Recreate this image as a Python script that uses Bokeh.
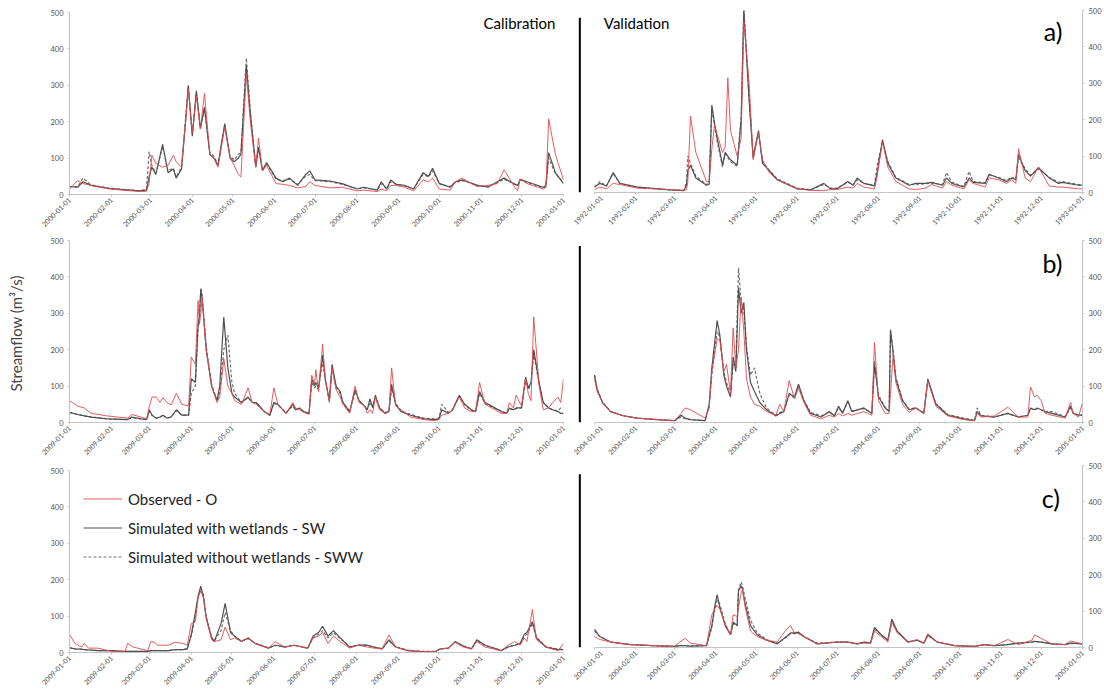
import math
import pandas as pd
from bokeh.plotting import figure
from bokeh.models import Range1d, FixedTicker, DatetimeTickFormatter, Label, Legend, LegendItem
from bokeh.layouts import row, column
from bokeh.embed import file_html
from bokeh.resources import INLINE

# ---------------- data (day offset from Jan 1, values in m3/s) ----------------
A_CAL_START, A_CAL_END = "2000-01-01", "2001-01-01"
A_CAL_DAYS = [0, 6, 10, 16, 30, 52, 57, 59, 61, 64, 69, 73, 77, 79, 83, 86, 88, 91, 94, 97, 100, 104, 107, 110,
              115, 119, 122, 125, 127, 131, 134, 138, 140, 143, 146, 153, 158, 163, 169, 175, 178, 182, 193, 202,
              213, 218, 228, 231, 235, 238, 242, 248, 255, 262, 266, 269, 274, 282, 286, 291, 295, 302, 310, 317,
              322, 329, 332, 334, 339, 351, 353, 355, 360, 366]
A_CAL_OBS = [15, 38, 30, 25, 15, 8, 9, 30, 108, 85, 75, 80, 108, 90, 75, 200, 290, 170, 270, 180, 278, 110, 100, 75,
             185, 100, 80, 55, 48, 330, 200, 75, 155, 65, 80, 30, 28, 25, 18, 22, 35, 25, 18, 20,
             10, 12, 8, 15, 10, 25, 25, 20, 10, 40, 35, 45, 15, 12, 35, 45, 35, 22, 25, 30,
             68, 25, 10, 42, 30, 15, 20, 208, 110, 40]
A_CAL_SW = [22, 20, 35, 25, 16, 10, 12, 50, 75, 55, 138, 60, 70, 45, 70, 200, 300, 160, 285, 180, 240, 110, 100, 80,
            195, 100, 90, 100, 110, 355, 220, 75, 130, 65, 88, 45, 35, 45, 25, 55, 65, 40, 37, 30,
            15, 20, 12, 35, 15, 40, 28, 25, 15, 60, 50, 72, 30, 20, 35, 40, 35, 25, 20, 35,
            45, 30, 25, 42, 35, 20, 25, 115, 60, 30]
A_CAL_SWW = [22, 21, 45, 26, 17, 10, 15, 118, 80, 58, 132, 65, 72, 48, 75, 210, 295, 165, 280, 185, 235, 115, 105, 82,
             190, 105, 95, 110, 115, 375, 230, 78, 128, 68, 85, 42, 38, 42, 28, 50, 55, 38, 35, 28,
             16, 18, 13, 30, 16, 35, 28, 24, 16, 55, 48, 65, 30, 22, 33, 38, 34, 26, 22, 33,
             42, 30, 25, 40, 33, 18, 22, 100, 58, 32]

A_VAL_START, A_VAL_END = "1992-01-01", "1993-01-01"
A_VAL_DAYS = [0, 4, 9, 14, 19, 32, 57, 67, 69, 70, 72, 76, 84, 86, 88, 90, 92, 96, 98, 100, 102, 107, 110, 112,
              116, 119, 123, 126, 131, 137, 152, 162, 172, 177, 182, 190, 194, 197, 202, 210, 212, 216, 220, 226,
              236, 241, 248, 253, 261, 264, 268, 277, 281, 284, 293, 296, 303, 309, 313, 316, 318, 323, 327, 333,
              341, 348, 351, 363, 366]
A_VAL_OBS = [8, 15, 10, 25, 22, 12, 8, 6, 8, 30, 210, 110, 30, 30, 120, 185, 160, 110, 125, 315, 170, 100, 150, 470,
             300, 90, 165, 90, 55, 35, 10, 6, 5, 8, 8, 15, 12, 25, 15, 10, 45, 140, 70, 30,
             10, 8, 12, 22, 12, 30, 20, 10, 35, 25, 15, 40, 35, 25, 35, 25, 120, 40, 30, 70,
             18, 15, 15, 10, 10]
A_VAL_SW = [15, 25, 18, 55, 25, 15, 7, 5, 20, 60, 75, 40, 20, 22, 240, 190, 150, 75, 110, 100, 90, 75, 200, 500,
            250, 95, 170, 80, 60, 35, 10, 7, 25, 10, 10, 30, 20, 40, 25, 18, 55, 145, 80, 40,
            20, 25, 25, 28, 20, 40, 25, 15, 40, 28, 25, 50, 40, 30, 40, 35, 105, 60, 45, 68,
            40, 25, 28, 20, 20]
A_VAL_SWW = [15, 30, 18, 52, 25, 15, 7, 5, 30, 100, 80, 45, 22, 25, 230, 185, 140, 70, 105, 95, 85, 72, 210, 510,
             260, 100, 165, 85, 62, 38, 12, 8, 22, 12, 12, 28, 22, 35, 25, 20, 75, 140, 85, 42,
             22, 22, 24, 26, 22, 55, 28, 17, 58, 30, 27, 48, 42, 33, 42, 37, 95, 65, 48, 65,
             42, 28, 30, 22, 21]

B_CAL_START, B_CAL_END = "2009-01-01", "2010-01-01"
B_CAL_DAYS = [0, 6, 11, 16, 28, 43, 46, 53, 57, 59, 61, 64, 67, 69, 72, 75, 79, 83, 88, 90, 93, 95, 96, 97, 98,
              101, 105, 109, 111, 114, 117, 120, 122, 127, 132, 135, 138, 144, 148, 151, 154, 160, 165, 167, 170,
              173, 177, 179, 181, 182, 184, 187, 189, 192, 194, 197, 200, 202, 207, 211, 214, 218, 220, 222, 224,
              226, 229, 233, 236, 238, 241, 245, 252, 262, 270, 273, 275, 280, 283, 288, 292, 297, 300, 303, 307,
              312, 319, 323, 325, 328, 330, 334, 337, 339, 341, 343, 347, 350, 354, 357, 361, 363, 365]
B_CAL_OBS = [60, 45, 40, 25, 18, 12, 22, 15, 10, 45, 70, 70, 55, 68, 55, 48, 80, 50, 45, 180, 160, 335, 270, 300, 345,
             200, 100, 55, 70, 175, 100, 80, 60, 50, 95, 55, 50, 30, 22, 95, 50, 25, 55, 40, 35,
             28, 22, 130, 105, 145, 85, 215, 120, 55, 150, 90, 70, 50, 25, 100, 55, 45, 25, 35, 25,
             70, 35, 25, 30, 150, 45, 35, 15, 8, 5, 8, 20, 25, 35, 70, 40, 30, 30, 110, 50,
             40, 25, 25, 55, 40, 75, 45, 120, 80, 60, 290, 100, 35, 40, 55, 70, 55, 120]
B_CAL_SW = [28, 22, 18, 15, 10, 8, 15, 10, 8, 35, 20, 12, 15, 20, 12, 15, 35, 20, 20, 120, 110, 270, 290, 365, 340,
            200, 100, 60, 100, 290, 150, 80, 70, 55, 70, 55, 55, 30, 20, 55, 50, 25, 50, 35, 40,
            30, 25, 120, 100, 110, 95, 185, 120, 60, 160, 100, 85, 55, 30, 90, 60, 45, 35, 65, 40,
            75, 40, 25, 30, 105, 50, 30, 20, 10, 8, 10, 35, 25, 35, 75, 50, 35, 30, 85, 55,
            45, 30, 25, 40, 35, 40, 40, 125, 95, 110, 200, 110, 55, 40, 35, 30, 25, 25]
B_CAL_SWW = [28, 22, 18, 15, 10, 8, 14, 10, 8, 30, 20, 12, 15, 20, 12, 15, 33, 20, 20, 80, 100, 260, 280, 370, 350,
             210, 105, 60, 80, 200, 240, 110, 80, 55, 68, 55, 52, 30, 20, 52, 48, 28, 45, 35, 38,
             30, 25, 110, 95, 100, 90, 170, 115, 60, 150, 95, 80, 55, 30, 85, 58, 45, 35, 55, 40,
             70, 42, 28, 30, 95, 52, 32, 22, 12, 10, 12, 50, 28, 35, 72, 48, 33, 30, 80, 52,
             43, 32, 25, 38, 35, 38, 40, 115, 90, 105, 190, 105, 55, 40, 35, 32, 40, 42]

B_VAL_START, B_VAL_END = "2004-01-01", "2005-01-01"
B_VAL_DAYS = [0, 2, 6, 12, 22, 32, 47, 60, 65, 68, 72, 83, 86, 88, 92, 94, 97, 99, 102, 104, 106, 108, 110, 112,
              114, 117, 120, 124, 129, 136, 139, 142, 146, 150, 153, 157, 162, 170, 176, 180, 183, 186, 190, 193,
              202, 208, 210, 213, 218, 221, 222, 224, 226, 231, 236, 241, 247, 250, 256, 265, 277, 285, 287, 290,
              300, 310, 318, 325, 327, 330, 332, 335, 338, 343, 353, 357, 359, 363, 366]
B_VAL_OBS = [120, 85, 55, 30, 18, 12, 8, 5, 25, 40, 35, 12, 40, 140, 230, 225, 140, 160, 80, 260, 150, 200, 345, 250,
             120, 70, 50, 45, 30, 20, 50, 30, 115, 65, 95, 55, 20, 10, 20, 15, 25, 18, 25, 20,
             30, 20, 220, 60, 25, 25, 80, 190, 110, 50, 28, 40, 25, 115, 45, 18, 8, 5, 25, 15,
             18, 42, 15, 15, 98, 70, 75, 60, 25, 20, 12, 55, 25, 15, 55]
B_VAL_SW = [130, 90, 55, 30, 18, 12, 8, 5, 20, 12, 8, 5, 50, 150, 280, 240, 130, 100, 70, 180, 140, 370, 300, 330,
            200, 110, 85, 55, 35, 18, 25, 30, 80, 70, 105, 60, 25, 15, 30, 18, 45, 25, 60, 30,
            40, 25, 160, 70, 40, 30, 255, 190, 120, 60, 35, 40, 25, 120, 50, 20, 10, 5, 30, 18,
            15, 25, 15, 20, 40, 35, 40, 35, 30, 25, 15, 45, 25, 20, 20]
B_VAL_SWW = [130, 92, 56, 31, 18, 12, 8, 5, 15, 10, 8, 5, 45, 130, 250, 235, 140, 110, 80, 160, 150, 425, 330, 310,
             210, 130, 150, 80, 40, 20, 28, 30, 75, 68, 100, 62, 28, 18, 28, 20, 40, 28, 55, 32,
             38, 27, 170, 75, 42, 32, 250, 200, 125, 62, 37, 40, 27, 115, 52, 22, 12, 6, 40, 20,
             15, 25, 15, 20, 38, 35, 38, 35, 30, 30, 16, 40, 26, 20, 20]

C_CAL_START, C_CAL_END = "2009-01-01", "2010-01-01"
C_CAL_DAYS = [0, 4, 9, 11, 14, 21, 31, 41, 43, 47, 58, 60, 63, 65, 73, 78, 84, 87, 90, 93, 95, 97, 99, 101, 105,
              107, 112, 115, 119, 122, 127, 132, 137, 147, 152, 159, 166, 176, 180, 184, 187, 191, 195, 200, 207,
              213, 220, 225, 231, 236, 241, 250, 263, 270, 274, 280, 285, 291, 297, 301, 307, 319, 324, 329, 333,
              336, 338, 342, 345, 352, 361, 365]
C_CAL_OBS = [50, 25, 15, 25, 12, 12, 3, 2, 25, 15, 5, 30, 28, 20, 20, 28, 25, 20, 80, 85, 150, 170, 150, 95, 35,
             30, 35, 70, 35, 40, 30, 40, 25, 12, 30, 15, 20, 12, 40, 45, 55, 25, 45, 30, 12,
             20, 15, 12, 10, 48, 15, 5, 2, 2, 10, 12, 28, 15, 10, 30, 15, 5, 20, 30, 20,
             40, 30, 118, 35, 15, 5, 25]
C_CAL_SW = [13, 10, 9, 8, 7, 5, 5, 3, 3, 3, 3, 5, 5, 5, 5, 8, 8, 10, 50, 110, 155, 182, 150, 95, 40,
            30, 80, 135, 55, 45, 30, 40, 25, 12, 20, 15, 20, 12, 45, 55, 72, 45, 60, 40, 15,
            20, 20, 15, 10, 35, 15, 5, 2, 2, 10, 12, 30, 18, 10, 35, 20, 5, 15, 20, 25,
            50, 55, 85, 40, 15, 8, 8]
C_CAL_SWW = [13, 10, 9, 8, 7, 5, 5, 3, 3, 3, 3, 5, 5, 5, 5, 8, 8, 10, 45, 100, 150, 175, 160, 100, 42,
             32, 60, 110, 60, 45, 32, 38, 26, 13, 20, 16, 20, 12, 40, 50, 60, 40, 55, 38, 16,
             20, 20, 15, 10, 32, 16, 6, 3, 3, 10, 12, 28, 18, 10, 33, 20, 6, 15, 20, 25,
             45, 50, 80, 42, 16, 9, 9]

C_VAL_START, C_VAL_END = "2004-01-01", "2005-01-01"
C_VAL_DAYS = [0, 4, 12, 27, 44, 60, 64, 68, 72, 84, 88, 90, 92, 94, 98, 102, 104, 107, 108, 110, 111, 113, 117, 122,
              129, 137, 144, 147, 150, 153, 157, 167, 182, 190, 197, 202, 207, 210, 215, 220, 223, 227, 235, 242,
              247, 250, 257, 270, 285, 292, 300, 310, 318, 328, 330, 335, 343, 353, 357, 366]
C_VAL_OBS = [30, 22, 15, 8, 5, 3, 15, 25, 12, 5, 90, 105, 115, 105, 65, 35, 90, 85, 110, 150, 160, 110, 45, 30,
             20, 15, 50, 60, 40, 38, 30, 10, 15, 15, 10, 12, 12, 45, 30, 15, 70, 40, 15, 22,
             12, 38, 15, 5, 3, 8, 5, 22, 8, 20, 35, 25, 10, 8, 18, 10]
C_VAL_SW = [50, 30, 15, 8, 5, 3, 5, 5, 4, 5, 60, 110, 145, 110, 60, 35, 70, 60, 155, 170, 160, 120, 60, 35,
            20, 10, 30, 40, 40, 42, 30, 10, 15, 15, 10, 15, 12, 55, 35, 20, 78, 45, 15, 20,
            12, 35, 15, 5, 3, 8, 5, 8, 12, 15, 17, 15, 10, 8, 12, 10]
C_VAL_SWW = [45, 30, 15, 8, 5, 3, 5, 5, 4, 5, 55, 100, 130, 120, 65, 35, 65, 60, 160, 180, 170, 135, 75, 40,
             22, 12, 28, 38, 38, 40, 30, 12, 15, 15, 10, 15, 12, 50, 35, 20, 72, 45, 15, 20,
             12, 33, 15, 5, 3, 8, 5, 8, 12, 15, 17, 15, 10, 8, 12, 10]

Y_TICKS = [0, 100, 200, 300, 400, 500]
LEGEND_LABELS = ["Observed - O", "Simulated with wetlands - SW", "Simulated without wetlands - SWW"]

OBS_COLOR = "#e24a4f"
SW_COLOR = "#505050"
SWW_COLOR = "#707070"
AXIS_COLOR = "#c4c4c4"
TICK_TEXT = "#555555"
FONT = "Lato"


def ms(ts):
    return pd.Timestamp(ts).value / 1e6


def to_dates(start, days):
    return pd.Timestamp(start) + pd.to_timedelta(days, unit="D")


def make_panel(side, start, end, days, obs, sw, sww, top, bottom, pre_days=0):
    s = pd.Timestamp(start)
    e = pd.Timestamp(end)
    rs = s - pd.Timedelta(days=pre_days)
    if side == "left":
        fw, bl, br = 494, 69, 9
    else:
        fw, bl, br = 508, 2, 20
    p = figure(x_axis_type="datetime", y_axis_location=side, output_backend="svg",
               toolbar_location=None, frame_width=fw, frame_height=182,
               min_border_left=bl, min_border_right=br, min_border_top=top, min_border_bottom=bottom,
               x_range=Range1d(ms(rs), ms(e)), y_range=Range1d(0, 500))
    p.outline_line_color = None
    p.grid.visible = False
    p.background_fill_color = "white"
    p.border_fill_color = "white"

    x = to_dates(start, days)
    r_sww = p.line(x, sww, line_color=SWW_COLOR, line_width=1.2, line_dash="3 2")
    r_sw = p.line(x, sw, line_color=SW_COLOR, line_width=1.2)
    r_obs = p.line(x, obs, line_color=OBS_COLOR, line_width=1.0, line_alpha=0.9)

    ticks = [ms(t) for t in pd.date_range(s, e, freq="MS")]
    p.xaxis.ticker = FixedTicker(ticks=ticks)
    fmt = "%Y-%m-%d"
    p.xaxis.formatter = DatetimeTickFormatter(days=fmt, months=fmt, years=fmt, hours=fmt, minutes=fmt)
    p.xaxis.major_label_orientation = math.pi / 4
    p.xaxis.major_label_text_font_size = "7px"
    p.xaxis.major_label_standoff = 2
    p.yaxis.ticker = FixedTicker(ticks=Y_TICKS)
    p.yaxis.major_label_text_font_size = "7.5px"
    p.yaxis.major_label_standoff = 4
    for ax in (p.xaxis, p.yaxis):
        ax.axis_line_color = AXIS_COLOR
        ax.major_tick_line_color = AXIS_COLOR
        ax.minor_tick_line_color = None
        ax.major_tick_in = 0
        ax.major_tick_out = 2
        ax.major_label_text_color = TICK_TEXT
        ax.major_label_text_font = FONT
    if side == "right":
        p.xaxis.bounds = (ms(s), ms(e))
    return p, (r_obs, r_sw, r_sww)


def big_text(p, x, y, text, size, align):
    p.add_layout(Label(x=x, y=y, text=text, text_font=FONT, text_font_size=size,
                       text_align=align, text_baseline="middle", text_color="black"))


def separator(p, start, y_top):
    x0 = ms(pd.Timestamp(start) - pd.Timedelta(days=11))
    p.segment(x0=[x0], y0=[0], x1=[x0], y1=[y_top], line_color="black", line_width=2)


# ---------------- row a ----------------
pa_l, _ = make_panel("left", A_CAL_START, A_CAL_END, A_CAL_DAYS, A_CAL_OBS, A_CAL_SW, A_CAL_SWW, 12, 42)
pa_r, _ = make_panel("right", A_VAL_START, A_VAL_END, A_VAL_DAYS, A_VAL_OBS, A_VAL_SW, A_VAL_SWW, 10, 44, pre_days=15)
big_text(pa_l, ms("2000-12-26"), 470, "Calibration", "15px", "right")
big_text(pa_r, ms("1992-01-08"), 467, "Validation", "15px", "left")
big_text(pa_r, ms("1992-12-17"), 445, "a)", "25px", "right")
separator(pa_r, A_VAL_START, 480)

# ---------------- row b ----------------
pb_l, _ = make_panel("left", B_CAL_START, B_CAL_END, B_CAL_DAYS, B_CAL_OBS, B_CAL_SW, B_CAL_SWW, 4, 44)
pb_r, _ = make_panel("right", B_VAL_START, B_VAL_END, B_VAL_DAYS, B_VAL_OBS, B_VAL_SW, B_VAL_SWW, 4, 39, pre_days=15)
pb_l.yaxis.axis_label = "Streamflow  (m³/s)"
pb_l.yaxis.axis_label_text_font = FONT
pb_l.yaxis.axis_label_text_font_size = "15px"
pb_l.yaxis.axis_label_text_font_style = "normal"
pb_l.yaxis.axis_label_standoff = 22
big_text(pb_r, ms("2004-12-17"), 437, "b)", "25px", "right")
separator(pb_r, B_VAL_START, 485)

# ---------------- row c ----------------
pc_l, rc = make_panel("left", C_CAL_START, C_CAL_END, C_CAL_DAYS, C_CAL_OBS, C_CAL_SW, C_CAL_SWW, 4, 40)
pc_r, _ = make_panel("right", C_VAL_START, C_VAL_END, C_VAL_DAYS, C_VAL_OBS, C_VAL_SW, C_VAL_SWW, 4, 45, pre_days=15)
big_text(pc_r, ms("2004-12-15"), 411, "c)", "25px", "right")
separator(pc_r, C_VAL_START, 476)

legend = Legend(items=[LegendItem(label=LEGEND_LABELS[i], renderers=[rc[i]]) for i in range(3)],
                location="top_left", margin=14, padding=0, spacing=0,
                glyph_width=39, glyph_height=29, label_height=29, label_standoff=6,
                label_text_font=FONT, label_text_font_size="15px", label_text_color="#222222",
                border_line_color=None, background_fill_alpha=0)
pc_l.add_layout(legend)

layout = row(column(pa_l, pb_l, pc_l), column(pa_r, pb_r, pc_r))

open("out.html", "w").write(file_html(layout, INLINE))
